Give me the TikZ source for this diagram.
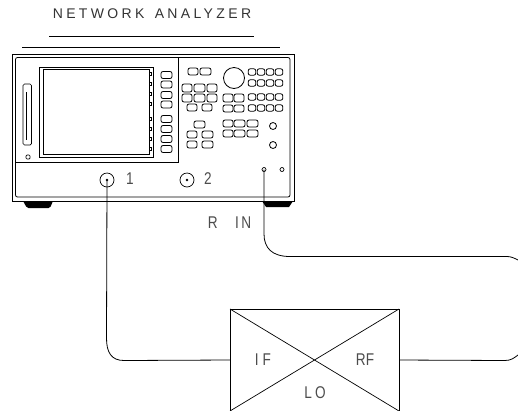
\documentclass[tikz,border=0pt]{standalone}
\usepackage{fontspec}
\setmainfont{Liberation Sans}
\newfontfamily\titlefont[LetterSpace=24]{Liberation Sans}
\begin{document}
\begin{tikzpicture}[x=1pt,y=-1pt,
  every node/.style={inner sep=0pt,outer sep=0pt},
  key/.style={draw,line width=.8pt,rounded corners=2pt},
  wire/.style={draw,line width=.8pt},
  lab/.style={font=\fontsize{17pt}{18pt}\selectfont,text=black!70,xscale=.8},
  port/.style={circle,draw,line width=.7pt,minimum size=14pt},
  tiny/.style={circle,draw,line width=.7pt,minimum size=4pt},
  softkey/.style={draw,line width=1pt,minimum size=2.5pt}]
\useasboundingbox (0,0) rectangle (518,410);
\node[font=\titlefont\fontsize{14pt}{15pt}\selectfont,text=black!80] (title) at (152,14) {NETWORK\hspace{3pt} ANALYZER};
\coordinate (u1) at (49,36); \coordinate (u2) at (254,36);
\draw[line width=.7pt] (u1) -- (u2);
\coordinate (t1) at (22,47.5); \coordinate (t2) at (280,47.5);
\draw[line width=1.5pt] (t1) -- (t2);
\coordinate (s1) at (13,54); \coordinate (s2) at (294,54);
\draw[line width=.8pt] (s1) -- (s2);
% body
\draw[line width=.8pt] (12.5,54) -- (12.5,201) -- (294,201) -- (294,54);
\draw[line width=.8pt,rounded corners=2pt] (15.5,57.5) rectangle (290,197);
\draw[line width=.6pt] (15.5,162.5) -- (178,162.5) -- (178,57.5);
% feet
\fill[black,rounded corners=1.5pt] (23,201) -- (53,201) -- (50,208) -- (27,208) -- cycle;
\fill[black] (262,201) -- (293,201) -- (289,207) -- (266,207) -- cycle;
% screen
\draw[line width=1pt] (39.5,67) rectangle (153,157.5);
\draw[line width=.8pt] (43,69.5) rectangle (149.5,154.5);
\foreach \y in {74,84,94,104,119,129,139,149}
  \node[softkey] at (150.5,\y) {};
% disk slot
\draw[line width=.7pt,rounded corners=1.5pt] (23,84) rectangle (31.5,145);
\draw[line width=1.6pt] (26.5,92) -- (26.5,140);
\draw[line width=.7pt,rounded corners=1pt] (26,155) rectangle (30,159);
% softkey column
\foreach \y in {75,84.5,95,104.5,119,129,139,149}
 \draw[key] (161,\y-3.5) rectangle (172,\y+3.5);
% keypads
\foreach \xa/\xb/\ya/\yb in {
 188/198/68/75, 200/211/68/75,
 182/192/84/92, 194/205/84/92, 207/217/84/92,
 182/192/94/102, 194/205/94/102, 207/217/94/102,
 187/197/104/111, 202/212/104/111,
 223/233/94/102, 234/244/94/102, 223/233/105/112, 234/244/105/112,
 194/205/121/128,
 187/197/131/138, 202/213/131/138,
 187/197/141/148, 202/213/141/148,
 223/233/120/127, 234/245/120/127, 247/258/120/127,
 223/233/130/137, 234/245/130/137, 247/258/130/137}
 \draw[key] (\xa,\ya) rectangle (\xb,\yb);
\foreach \y in {72,83,97,108}
 \foreach \x in {252,261,270,279}
  \draw[key] (\x-3.8,\y-3.2) rectangle (\x+3.8,\y+3.2);
\node[circle,draw,line width=.8pt,minimum size=21pt] (knob) at (234,78) {};
\node[circle,draw,line width=.8pt,minimum size=7pt] (k1) at (273,126) {};
\node[circle,draw,line width=.8pt,minimum size=7pt] (k2) at (273,145) {};
% ports
\node[port] (p1) at (107,180) {};
\fill (p1) circle (1.4);
\node[lab] (n1) at (130,179) {1};
\node[port] (p2) at (187,180) {};
\fill (p2) circle (1.4);
\node[lab] (n2) at (208,179) {2};
\node[tiny] (rin) at (264,169.5) {};
\node[tiny] (aux) at (282,169.5) {};
\node[lab] (rinl) at (229.5,223) {R\hspace{22pt}I\hspace{3pt}N};
% mixer
\node[draw,line width=.8pt,minimum width=169pt,minimum height=102pt] (mix) at (314.5,360) {};
\draw[line width=.7pt] (mix.north west) -- (mix.south east);
\draw[line width=.7pt] (mix.north east) -- (mix.south west);
\node[lab] (lif) at (263,360) {I\hspace{5pt}F};
\node[lab] (lrf) at (365,360) {RF};
\node[lab] (llo) at (315,393) {L\hspace{4pt}O};
% cables
\coordinate (rend) at (518,260);
\coordinate (ifend) at (518,355);
\draw[wire] (p1.center) -- (106.5,338) .. controls (106.5,352) and (111,360.5) .. (124,360.5) -- (mix.west);
\draw[wire] (rin.center) -- (264,234) .. controls (264,248) and (272,256.5) .. (290,256.5) -- (507,256.5) .. controls (511,256.5) and (514,258) .. (rend);
\draw[wire] (mix.east) -- (505,360.5) .. controls (511,360.5) and (514,358) .. (ifend);
\end{tikzpicture}
\end{document}
